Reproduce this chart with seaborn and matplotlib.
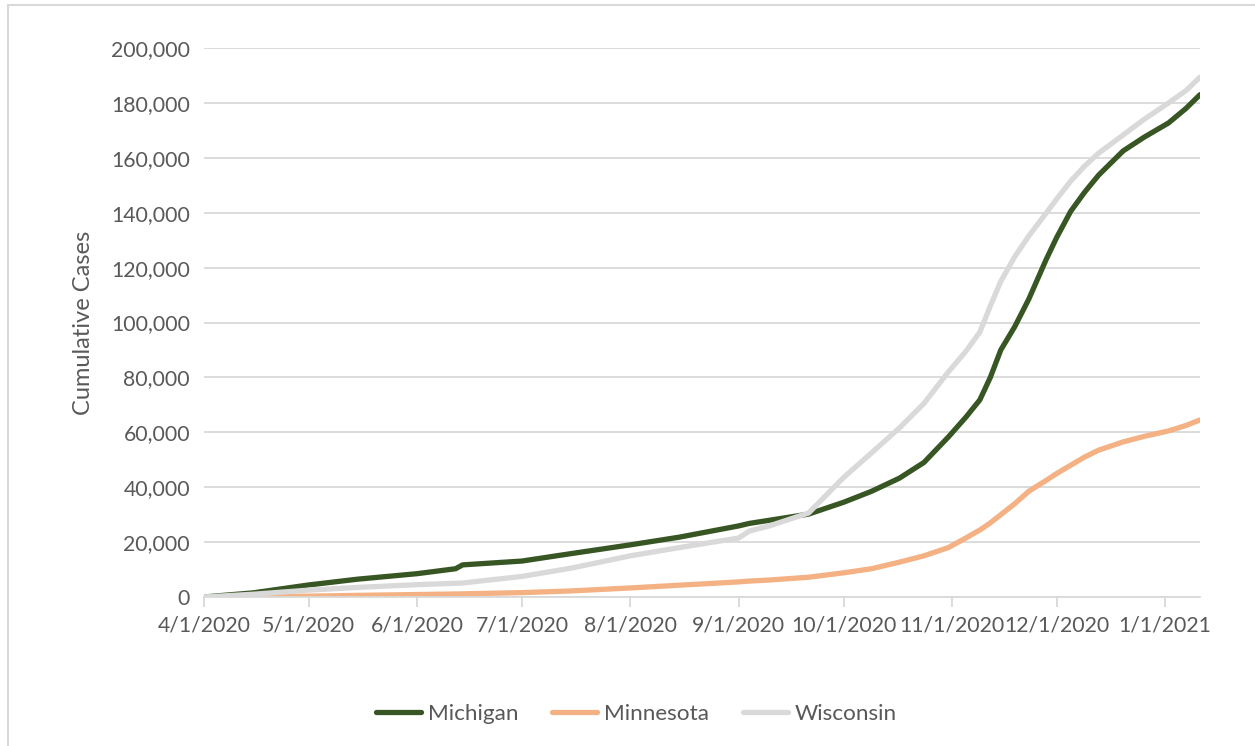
import matplotlib
matplotlib.use("Agg")
import matplotlib.pyplot as plt
import matplotlib.dates as mdates
from matplotlib.ticker import FuncFormatter
from matplotlib.patches import Rectangle
import seaborn as sns
import pandas as pd

dates = ["2020-04-01", "2020-04-15", "2020-05-01", "2020-05-15", "2020-06-01", "2020-06-12",
         "2020-06-14", "2020-07-01", "2020-07-15", "2020-08-01", "2020-08-15", "2020-09-01",
         "2020-09-04", "2020-09-10", "2020-09-21", "2020-10-01", "2020-10-09", "2020-10-17",
         "2020-10-24", "2020-10-31", "2020-11-05", "2020-11-09", "2020-11-12", "2020-11-15",
         "2020-11-19", "2020-11-23", "2020-11-28", "2020-12-01", "2020-12-05", "2020-12-09",
         "2020-12-13", "2020-12-20", "2020-12-26", "2021-01-02", "2021-01-07", "2021-01-11"]

michigan = [0, 1500, 4400, 6500, 8500, 10300, 11700, 13100, 15800, 19000, 21800, 25900,
            26800, 28000, 30200, 34500, 38500, 43300, 49000, 58300, 65500, 71800, 80000, 90000,
            98500, 108500, 123000, 131000, 140500, 147500, 153700, 162500, 167500, 172700,
            178000, 183000]

minnesota = [0, 100, 300, 600, 900, 1100, 1150, 1600, 2200, 3300, 4300, 5500,
             5800, 6200, 7200, 8800, 10300, 12700, 15000, 18000, 21500, 24400, 27000, 30000,
             34000, 38500, 42500, 45000, 48000, 51000, 53500, 56500, 58500, 60500, 62500, 64500]

wisconsin = [0, 1000, 2500, 3500, 4500, 5000, 5100, 7500, 10500, 15000, 18000, 21500,
             24000, 26000, 30600, 43500, 52500, 61600, 70500, 82000, 89500, 96500, 106000, 115000,
             124000, 131500, 139900, 145000, 151500, 157000, 161700, 168300, 174000, 180000,
             184500, 189400]

series_names = ["Michigan", "Minnesota", "Wisconsin"]
colors = ["#375623", "#F4B183", "#D9D9D9"]

df = pd.DataFrame({"date": pd.to_datetime(dates), "Michigan": michigan,
                   "Minnesota": minnesota, "Wisconsin": wisconsin})
long = df.melt(id_vars="date", var_name="State", value_name="Cases")

sns.set_theme(style="white")
plt.rcParams['font.family'] = ['Lato', 'DejaVu Sans']

fig = plt.figure(figsize=(12.55, 7.46), dpi=100)
ax = fig.add_axes([204/1255, 1-597/746, (1200-204)/1255, (597-48)/746])

sns.lineplot(data=long, x="date", y="Cases", hue="State", hue_order=series_names,
             palette=colors, linewidth=3.8, ax=ax, legend=False, solid_capstyle="round")

ax.set_xlim(pd.Timestamp("2020-04-01"), pd.Timestamp("2021-01-11"))
ax.set_ylim(0, 200000)
ax.set_yticks(range(0, 200001, 20000))
ax.yaxis.set_major_formatter(FuncFormatter(lambda v, p: f"{int(v):,}"))
ax.xaxis.set_major_locator(mdates.MonthLocator())
ax.xaxis.set_major_formatter(FuncFormatter(
    lambda v, p: (lambda d: f"{d.month}/{d.day}/{d.year}")(mdates.num2date(v))))

ax.grid(axis="y", color="#D9D9D9", linewidth=1.3)
ax.set_axisbelow(True)
for s in ["left", "right", "top"]:
    ax.spines[s].set_visible(False)
ax.spines["bottom"].set_color("#D9D9D9")
ax.spines["bottom"].set_linewidth(1.3)
ax.tick_params(axis="x", which="major", direction="out", length=7, width=1.3,
               color="#D9D9D9", labelsize=15.3, labelcolor="#595959", pad=6, bottom=True)
ax.tick_params(axis="y", length=0, labelsize=15.3, labelcolor="#595959", pad=10)
ax.set_xlabel("")
ax.set_ylabel("Cumulative Cases", fontsize=17, color="#595959", labelpad=12)

handles = [plt.Line2D([0], [0], color=c, linewidth=3.8, solid_capstyle="round") for c in colors]
fig.legend(handles, series_names, loc="center", bbox_to_anchor=(0.507, 0.043), ncol=3,
           frameon=False, fontsize=16.2, handlelength=2.0, handletextpad=0.3,
           columnspacing=1.5, labelcolor="#595959")

fig.patches.append(Rectangle((8/1255, -0.1), 1.2, 1.1 - 5/746, transform=fig.transFigure,
                             fill=False, edgecolor="#D9D9D9", linewidth=1.5, figure=fig))

fig.savefig("out.png", dpi=100)
